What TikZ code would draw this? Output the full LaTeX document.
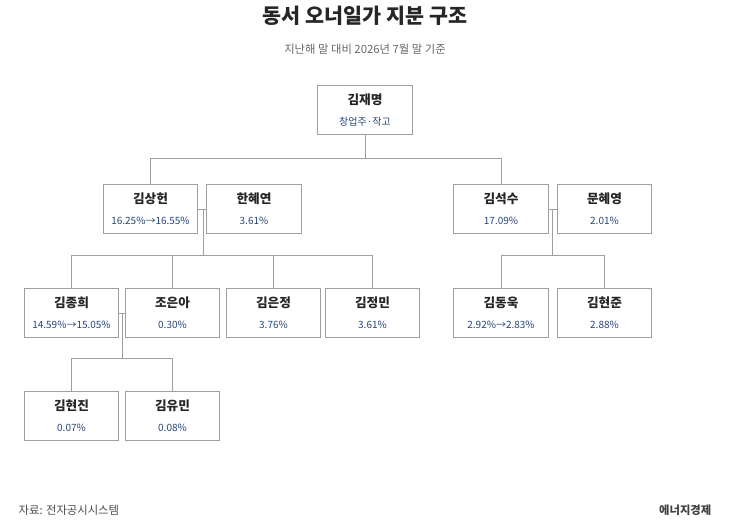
\documentclass[tikz,border=0pt]{standalone}
\usepackage{fontspec}
\setmainfont{Noto Sans CJK KR}
\begin{document}
\begin{tikzpicture}[x=0.75pt,y=-0.75pt,
  box/.style={draw=gray!75,line width=0.8pt,fill=white,minimum width=71pt,minimum height=36.5pt,inner sep=0pt},
  ln/.style={draw=gray!75,line width=0.75pt},
  nm/.style={font=\fontsize{9.5}{11}\selectfont\bfseries,text=black!85},
  pc/.style={font=\fontsize{7.5}{9}\selectfont,text={rgb,255:red,40;green,70;blue,120}}]
\useasboundingbox (0,0) rectangle (730,525);
\node[font=\fontsize{15.5}{18}\selectfont\bfseries,text=black!85] (title) at (365,16) {동서 오너일가 지분 구조};
\node[font=\fontsize{8.5}{10}\selectfont,text=black!60] (sub) at (365,49) {지난해 말 대비 2026년 7월 말 기준};
\newcommand{\pbox}[5]{%
  \node[box] (#1) at (#2,#3) {};
  \node[nm] at (#2,#3-10) {#4};
  \node[pc] at (#2,#3+12) {#5};}
\pbox{a}{365}{110}{김재명}{창업주·작고}
\pbox{b}{150.5}{209}{김상헌}{16.25\%→16.55\%}
\pbox{c}{254}{209}{한혜연}{3.61\%}
\pbox{d}{501}{209}{김석수}{17.09\%}
\pbox{e}{604.5}{209}{문혜영}{2.01\%}
\pbox{f}{71.5}{313}{김종희}{14.59\%→15.05\%}
\pbox{g}{172.5}{313}{조은아}{0.30\%}
\pbox{h}{273.5}{313}{김은정}{3.76\%}
\pbox{i}{372.5}{313}{김정민}{3.61\%}
\pbox{j}{501}{313}{김동욱}{2.92\%→2.83\%}
\pbox{k}{604.5}{313}{김현준}{2.88\%}
\pbox{l}{71.5}{416}{김현진}{0.07\%}
\pbox{m}{172.5}{416}{김유민}{0.08\%}
\coordinate (m1) at (203,209);
\coordinate (m2) at (552.5,209);
\coordinate (m3) at (122,313);
\draw[ln] (a.south) -- (365,158) -| (b.north);
\draw[ln] (365,158) -| (d.north);
\draw[ln] (b.east) -- (c.west);
\draw[ln] (d.east) -- (e.west);
\draw[ln] (f.east) -- (g.west);
\draw[ln] (m1) -- (203,255);
\draw[ln] (71.5,255) -- (372.5,255);
\foreach \n in {f,g,h,i} \draw[ln] (\n.north|-0,255) -- (\n.north);
\draw[ln] (m2) -- (552.5,255);
\draw[ln] (501,255) -- (604.5,255);
\foreach \n in {j,k} \draw[ln] (\n.north|-0,255) -- (\n.north);
\draw[ln] (m3) -- (122,358);
\draw[ln] (71.5,358) -- (172.5,358);
\foreach \n in {l,m} \draw[ln] (\n.north|-0,358) -- (\n.north);
\node[anchor=west,font=\fontsize{8.5}{10}\selectfont,text=black!70] (src) at (14,510) {자료: 전자공시시스템};
\node[anchor=east,font=\fontsize{8.5}{10}\selectfont\bfseries,text=black!75] (brand) at (716,510) {에너지경제};
\end{tikzpicture}
\end{document}
